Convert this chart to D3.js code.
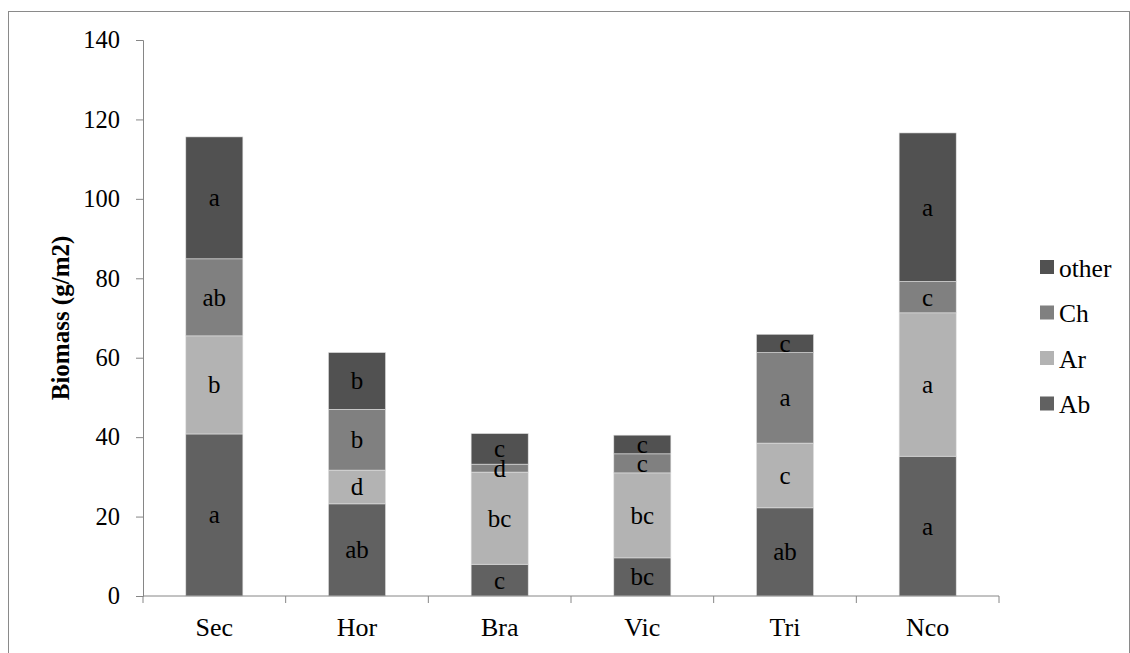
<!DOCTYPE html>
<html>
<head>
<meta charset="utf-8">
<script src="https://cdn.jsdelivr.net/npm/d3@7"></script>
<style>
  body { margin: 0; background: #fff; }
  text { font-family: "Liberation Serif", "Times New Roman", serif; fill: #000; }
</style>
</head>
<body>
<script>
const categories = ["Sec", "Hor", "Bra", "Vic", "Tri", "Nco"];
const seriesNames = ["Ab", "Ar", "Ch", "other"];
const ab = [40.8, 23.2, 8.0, 9.6, 22.2, 35.2];
const ar = [24.7, 8.5, 23.2, 21.4, 16.3, 36.1];
const ch = [19.4, 15.3, 2.0, 4.8, 22.8, 7.9];
const other = [30.7, 14.3, 7.7, 4.7, 4.6, 37.4];
const abLetters = ["a", "ab", "c", "bc", "ab", "a"];
const arLetters = ["b", "d", "bc", "bc", "c", "a"];
const chLetters = ["ab", "b", "d", "c", "a", "c"];
const otherLetters = ["a", "b", "c", "c", "c", "a"];
const yTicks = [0, 20, 40, 60, 80, 100, 120, 140];

const COLORS = { Ab: "#616161", Ar: "#b3b3b3", Ch: "#808080", other: "#515151" };
const W = 1130, H = 653;
const PLOT = { left: 143, right: 999, top: 40, bottom: 596 };
const FONT = "Liberation Serif";

const values = { Ab: ab, Ar: ar, Ch: ch, other: other };
const letters = { Ab: abLetters, Ar: arLetters, Ch: chLetters, other: otherLetters };

const rows = categories.map((c, i) => {
  const r = { cat: c };
  seriesNames.forEach(s => (r[s] = values[s][i]));
  return r;
});
const stacked = d3.stack().keys(seriesNames)(rows);

const svg = d3.select("body").append("svg").attr("width", W).attr("height", H);

// outer frame
svg.append("rect")
  .attr("x", 8.5).attr("y", 11.5)
  .attr("width", W - 9).attr("height", H - 11)
  .attr("fill", "none").attr("stroke", "#8a8a8a");

const x = d3.scaleBand().domain(categories).range([PLOT.left, PLOT.right]);
const y = d3.scaleLinear().domain([0, 140]).range([PLOT.bottom, PLOT.top]);
const barW = x.bandwidth() * 0.4;

const layers = svg.append("g").selectAll("g")
  .data(stacked)
  .join("g")
  .attr("fill", d => COLORS[d.key]);

layers.selectAll("rect")
  .data(d => d)
  .join("rect")
  .attr("x", d => x(d.data.cat) + (x.bandwidth() - barW) / 2)
  .attr("width", barW)
  .attr("y", d => y(d[1]))
  .attr("height", d => y(d[0]) - y(d[1]))
  .attr("stroke", "#e0e0e0")
  .attr("stroke-width", 0.6);

// segment letters
stacked.forEach(layer => {
  svg.append("g").selectAll("text")
    .data(layer)
    .join("text")
    .attr("x", d => x(d.data.cat) + x.bandwidth() / 2)
    .attr("y", d => y((d[0] + d[1]) / 2))
    .attr("text-anchor", "middle")
    .attr("dominant-baseline", "central")
    .style("font-family", FONT)
    .style("font-size", "25px")
    .text((d, i) => letters[layer.key][i]);
});

// y axis
const yAxis = svg.append("g")
  .attr("transform", `translate(${PLOT.left},0)`)
  .call(d3.axisLeft(y).tickValues(yTicks).tickSize(7).tickPadding(16));
yAxis.selectAll("path, line").attr("stroke", "#868686");
yAxis.selectAll("text").style("font-size", "24.5px").style("font-family", FONT);

// x axis
const xAxis = svg.append("g")
  .attr("transform", `translate(0,${PLOT.bottom})`)
  .call(d3.axisBottom(x).tickSize(0).tickPadding(22));
xAxis.select(".domain").attr("stroke", "#868686").attr("d", `M${PLOT.left},0H${PLOT.right}`);
xAxis.selectAll("text").style("font-size", "26px").style("font-family", FONT);
xAxis.selectAll(".sep")
  .data(categories.concat(["end"]))
  .join("line")
  .attr("class", "sep")
  .attr("x1", (d, i) => PLOT.left + i * x.bandwidth())
  .attr("x2", (d, i) => PLOT.left + i * x.bandwidth())
  .attr("y1", 0).attr("y2", 7)
  .attr("stroke", "#868686");

// y title
svg.append("text")
  .attr("transform", "translate(60,318) rotate(-90)")
  .attr("text-anchor", "middle")
  .attr("dominant-baseline", "central")
  .style("font-family", FONT)
  .style("font-size", "25px")
  .style("font-weight", "bold")
  .text("Biomass (g/m2)");

// legend
const legendOrder = ["other", "Ch", "Ar", "Ab"];
const legend = svg.append("g").selectAll("g")
  .data(legendOrder)
  .join("g")
  .attr("transform", (d, i) => `translate(1040,${267 + i * 45.5})`);
legend.append("rect")
  .attr("x", 0).attr("y", -7).attr("width", 14).attr("height", 14)
  .attr("fill", d => COLORS[d]);
legend.append("text")
  .attr("x", 19).attr("y", 1)
  .attr("dominant-baseline", "central")
  .style("font-family", FONT)
  .style("font-size", "25.5px")
  .text(d => d);
</script>
</body>
</html>
